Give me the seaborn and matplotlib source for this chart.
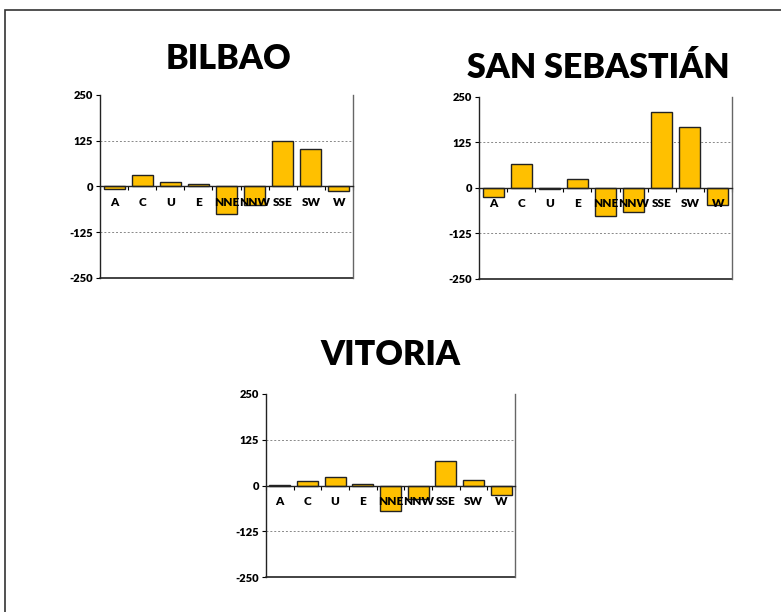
import matplotlib
matplotlib.use("Agg")
from matplotlib import pyplot as plt
from matplotlib.patches import Rectangle
import seaborn as sns
import pandas as pd

categories = ['A', 'C', 'U', 'E', 'NNE', 'NNW', 'SSE', 'SW', 'W']
bilbao = [-7, 31, 11, 6, -76, -50, 125, 103, -12]
san_sebastian = [-26, 66, -4, 25, -78, -67, 210, 168, -46]
vitoria = [1, 13, 22, 3, -70, -38, 68, 15, -25]
titles = ['BILBAO', 'SAN SEBASTIÁN', 'VITORIA']
yticks = [-250, -125, 0, 125, 250]

sns.set_theme(style='white')
plt.rcParams['font.family'] = ['Lato', 'DejaVu Sans']
plt.rcParams['text.color'] = 'black'
plt.rcParams['ytick.color'] = 'black'
plt.rcParams['xtick.color'] = 'black'

fig = plt.figure(figsize=(7.81, 6.12), dpi=100)
fig.patches.append(Rectangle((5 / 781, -0.1), 1.0, 1.1 - 10 / 612, transform=fig.transFigure,
                             fill=False, edgecolor='#333333', linewidth=1.2))


def panel(rect, values, title, title_xy):
    ax = fig.add_axes(rect)
    df = pd.DataFrame({'cat': categories, 'val': values})
    sns.barplot(data=df, x='cat', y='val', color='#FFC000', edgecolor='#222222',
                linewidth=1, width=0.75, saturation=1, ax=ax)
    ax.set_ylim(-250, 250)
    ax.set_xlim(-0.5, len(categories) - 0.5)
    ax.set_yticks(yticks)
    ax.set_yticklabels([str(t) for t in yticks], fontsize=8, fontweight='heavy')
    ax.tick_params(axis='y', direction='out', length=3, width=0.8, left=True, pad=2)
    ax.set_xlabel('')
    ax.set_ylabel('')
    # category axis sits on zero
    ax.spines['bottom'].set_position(('data', 0))
    ax.set_xticks([k - 0.5 for k in range(len(categories) + 1)])
    ax.set_xticklabels([])
    ax.tick_params(axis='x', direction='out', length=3, width=0.8, bottom=True)
    for i, c in enumerate(categories):
        ax.text(i, -43, c, ha='center', va='center', fontsize=8.5, fontweight='heavy')
    for s in ['left', 'bottom']:
        ax.spines[s].set_color('#222222')
        ax.spines[s].set_linewidth(1)
    ax.spines['top'].set_visible(False)
    ax.spines['right'].set_color('#666666')
    ax.spines['right'].set_linewidth(1)
    ax.axhline(-250, color='#222222', lw=1.2, clip_on=False)
    for g in (-125, 125):
        ax.axhline(g, color='#888888', lw=0.7, ls=(0, (2, 2)), zorder=0)
    fig.text(title_xy[0] / 781, 1 - title_xy[1] / 612, title, ha='center', va='center',
             fontsize=24.5, fontweight='heavy')
    return ax


panel([100 / 781, 1 - 278 / 612, 253 / 781, 183 / 612], bilbao, titles[0], (228, 59))
panel([479 / 781, 1 - 279 / 612, 253 / 781, 182 / 612], san_sebastian, titles[1], (598, 68))
panel([266 / 781, 1 - 577 / 612, 249 / 781, 183 / 612], vitoria, titles[2], (390, 355))

fig.savefig('out.png', dpi=100)
